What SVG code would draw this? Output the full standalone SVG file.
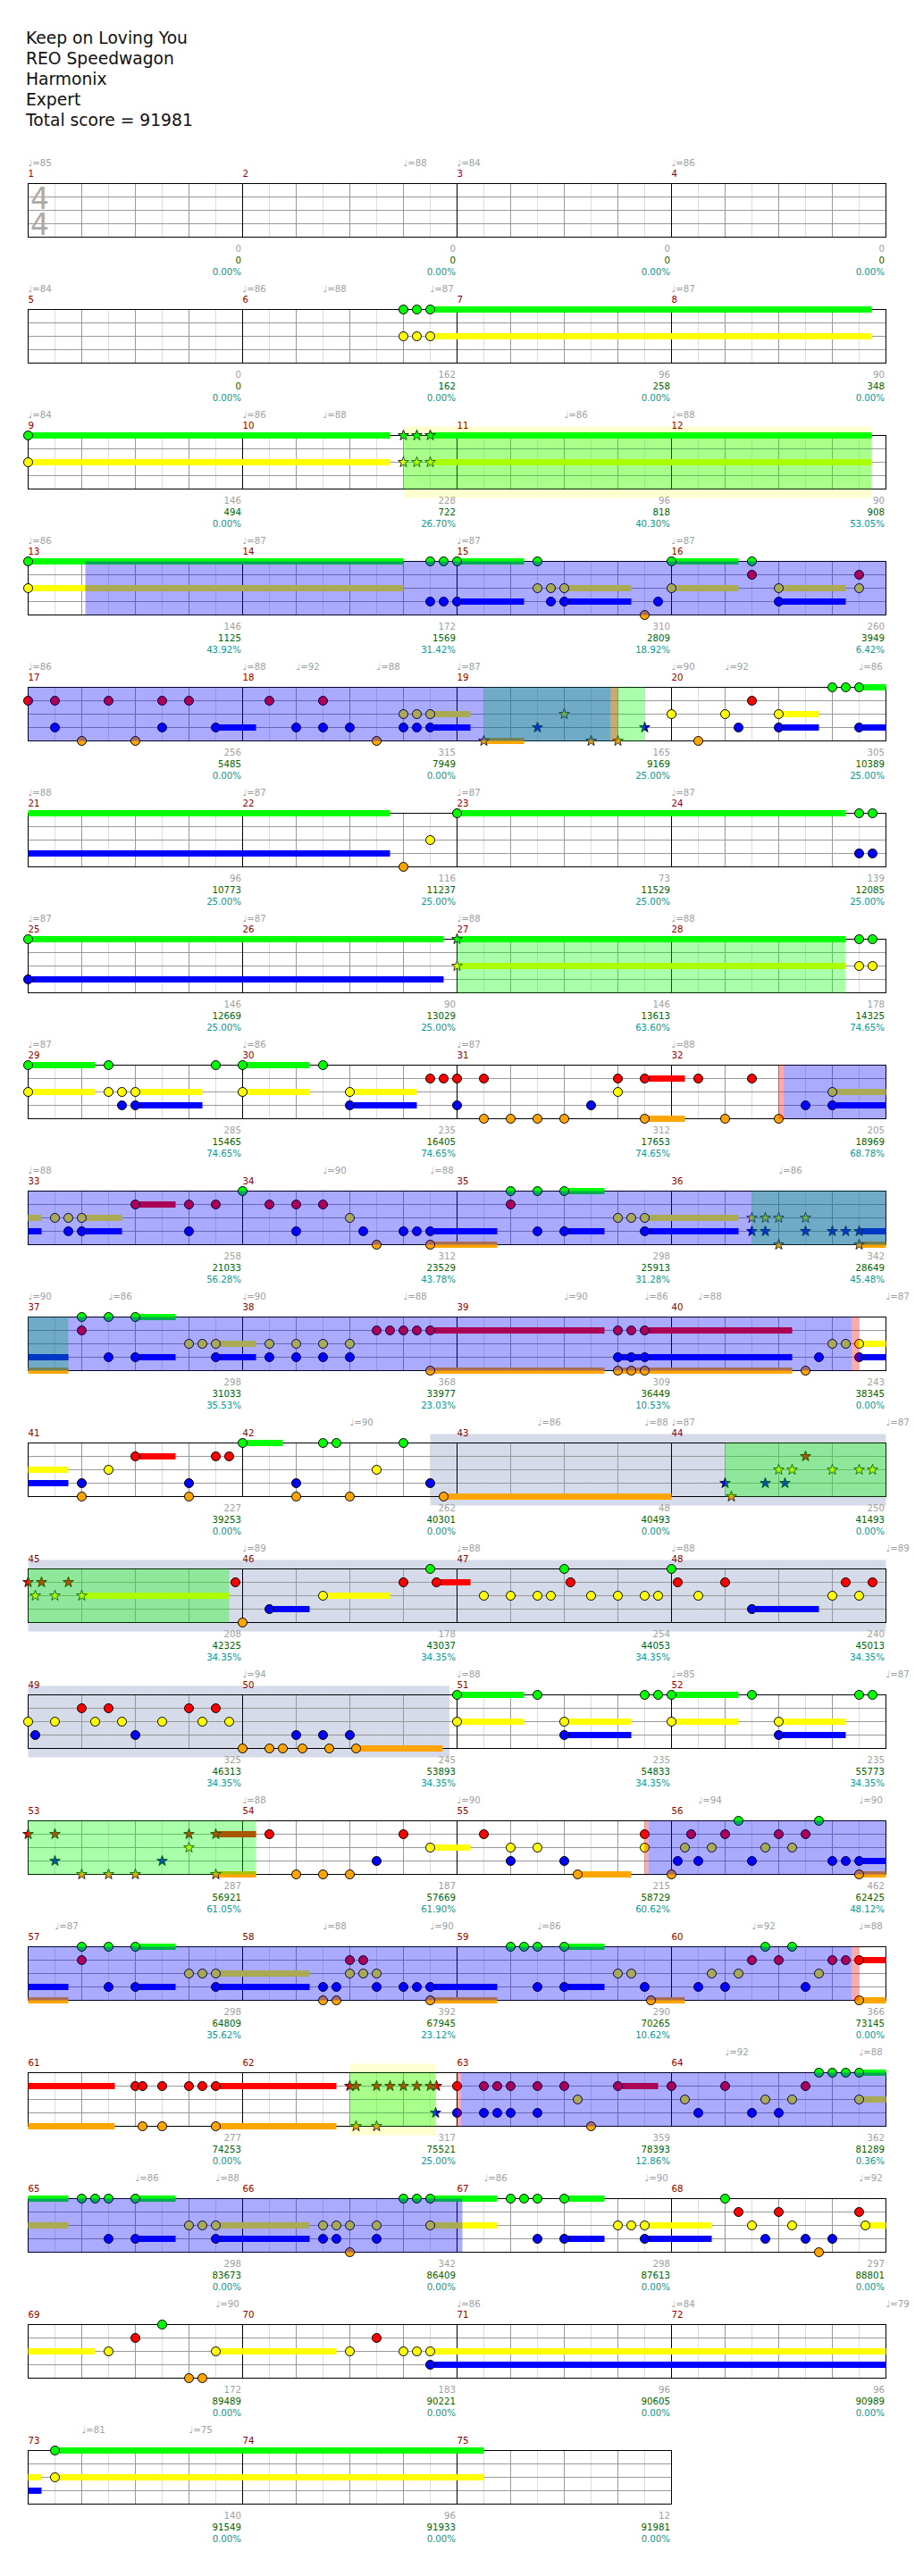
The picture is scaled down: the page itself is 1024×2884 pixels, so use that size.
<svg xmlns="http://www.w3.org/2000/svg" xmlns:xlink="http://www.w3.org/1999/xlink" width="1024" height="2884" viewBox="0 0 1024 2884">
<defs>
<style>
.t{font-family:"DejaVu Sans","Liberation Sans",sans-serif;font-size:10.2px}
.tp{fill:#a0a0a0}
.mn{fill:#8b0000}
.s1{fill:#a0a0a0;text-anchor:end}
.s2{fill:#006400;text-anchor:end}
.s3{fill:#009b9b;text-anchor:end}
.ttl{font-family:"DejaVu Sans","Liberation Sans",sans-serif;font-size:18.7px;fill:#111}
.ts{font-family:"DejaVu Sans","Liberation Sans",sans-serif;font-size:33px;fill:#aaa;writing-mode:vertical-rl;text-orientation:upright;letter-spacing:-9.4px}
.gl{stroke:#ddd;fill:none}
.gb{stroke:#999;fill:none}
.gm{stroke:#000;fill:none}
.lg,.lr,.ly,.lb,.lo{fill:none;stroke-width:7}
.lg{stroke:#0f0}.lr{stroke:#f00}.ly{stroke:#ff0}.lb{stroke:#00f}.lo{stroke:#ffa500}
.ob{fill:#00f;fill-opacity:.333}
.og{fill:#0f0;fill-opacity:.333}
.or{fill:#f00;fill-opacity:.333}
.py{fill:#ffffd0}
.pg{fill:#d5dbe8}
</style>
<g id="grid4">
<path class="gl" d="M30,0V60M90,0V60M150,0V60M210,0V60M270,0V60M330,0V60M390,0V60M450,0V60M510,0V60M570,0V60M630,0V60M690,0V60M750,0V60M810,0V60M870,0V60M930,0V60"/>
<path class="gb" d="M60,0V60M120,0V60M180,0V60M300,0V60M360,0V60M420,0V60M540,0V60M600,0V60M660,0V60M780,0V60M840,0V60M900,0V60M0,15H960M0,30H960M0,45H960"/>
<path class="gm" d="M240,0V60M480,0V60M720,0V60"/>
<rect class="gm" width="960" height="60"/>
</g>
<g id="grid3">
<path class="gl" d="M30,0V60M90,0V60M150,0V60M210,0V60M270,0V60M330,0V60M390,0V60M450,0V60M510,0V60M570,0V60M630,0V60M690,0V60"/>
<path class="gb" d="M60,0V60M120,0V60M180,0V60M300,0V60M360,0V60M420,0V60M540,0V60M600,0V60M660,0V60M0,15H720M0,30H720M0,45H720"/>
<path class="gm" d="M240,0V60M480,0V60"/>
<rect class="gm" width="720" height="60"/>
</g>
<circle id="G" r="5" fill="#0f0" stroke="#000"/>
<circle id="R" r="5" fill="#f00" stroke="#000"/>
<circle id="Y" r="5" fill="#ff0" stroke="#000"/>
<circle id="B" r="5" fill="#00f" stroke="#000"/>
<circle id="O" r="5" fill="#ffa500" stroke="#000"/>
<path id="sG" fill="#0f0" stroke="#000" stroke-width=".8" d="M0,-6.2L1.47,-2.02L5.9,-1.92L2.38,0.77L3.64,5.02L0,2.5L-3.64,5.02L-2.38,0.77L-5.9,-1.92L-1.47,-2.02Z"/>
<path id="sR" fill="#f00" stroke="#000" stroke-width=".8" d="M0,-6.2L1.47,-2.02L5.9,-1.92L2.38,0.77L3.64,5.02L0,2.5L-3.64,5.02L-2.38,0.77L-5.9,-1.92L-1.47,-2.02Z"/>
<path id="sY" fill="#ff0" stroke="#000" stroke-width=".8" d="M0,-6.2L1.47,-2.02L5.9,-1.92L2.38,0.77L3.64,5.02L0,2.5L-3.64,5.02L-2.38,0.77L-5.9,-1.92L-1.47,-2.02Z"/>
<path id="sB" fill="#00f" stroke="#000" stroke-width=".8" d="M0,-6.2L1.47,-2.02L5.9,-1.92L2.38,0.77L3.64,5.02L0,2.5L-3.64,5.02L-2.38,0.77L-5.9,-1.92L-1.47,-2.02Z"/>
<path id="sO" fill="#ffa500" stroke="#000" stroke-width=".8" d="M0,-6.2L1.47,-2.02L5.9,-1.92L2.38,0.77L3.64,5.02L0,2.5L-3.64,5.02L-2.38,0.77L-5.9,-1.92L-1.47,-2.02Z"/>
</defs>
<rect width="1024" height="2884" fill="#fff"/>

<g id="header" class="ttl">
<text x="29" y="49">Keep on Loving You</text>
<text x="29" y="72">REO Speedwagon</text>
<text x="29" y="95">Harmonix</text>
<text x="29" y="118">Expert</text>
<text x="29" y="141">Total score = 91981</text>
</g>

<g id="connectors"></g>

<g id="row-m1" transform="translate(31.5,205.5)">
<use href="#grid4"/>
<text class="ts" x="13" y="-3">44</text>
<g class="t">
<text class="tp" y="-20"><tspan x="0">♩=85</tspan><tspan x="420">♩=88</tspan><tspan x="480">♩=84</tspan><tspan x="720">♩=86</tspan></text>
<text class="mn" y="-7.5"><tspan x="0">1</tspan><tspan x="240">2</tspan><tspan x="480">3</tspan><tspan x="720">4</tspan></text>
<text class="s1" y="76.5"><tspan x="238.5">0</tspan><tspan x="478.5">0</tspan><tspan x="718.5">0</tspan><tspan x="958.5">0</tspan></text>
<text class="s2" y="89.5"><tspan x="238.5">0</tspan><tspan x="478.5">0</tspan><tspan x="718.5">0</tspan><tspan x="958.5">0</tspan></text>
<text class="s3" y="102.5"><tspan x="238.5">0.00%</tspan><tspan x="478.5">0.00%</tspan><tspan x="718.5">0.00%</tspan><tspan x="958.5">0.00%</tspan></text>
</g>
</g>

<g id="row-m5" transform="translate(31.5,346.5)">
<use href="#grid4"/>
<path class="lg" d="M450,0H944"/><path class="ly" d="M450,30H944"/>
<use href="#G" x="420"/><use href="#G" x="435"/><use href="#G" x="450"/>
<use href="#Y" x="420" y="30"/><use href="#Y" x="435" y="30"/><use href="#Y" x="450" y="30"/>
<g class="t">
<text class="tp" y="-20"><tspan x="0">♩=84</tspan><tspan x="240">♩=86</tspan><tspan x="330">♩=88</tspan><tspan x="450">♩=87</tspan><tspan x="720">♩=87</tspan></text>
<text class="mn" y="-7.5"><tspan x="0">5</tspan><tspan x="240">6</tspan><tspan x="480">7</tspan><tspan x="720">8</tspan></text>
<text class="s1" y="76.5"><tspan x="238.5">0</tspan><tspan x="478.5">162</tspan><tspan x="718.5">96</tspan><tspan x="958.5">90</tspan></text>
<text class="s2" y="89.5"><tspan x="238.5">0</tspan><tspan x="478.5">162</tspan><tspan x="718.5">258</tspan><tspan x="958.5">348</tspan></text>
<text class="s3" y="102.5"><tspan x="238.5">0.00%</tspan><tspan x="478.5">0.00%</tspan><tspan x="718.5">0.00%</tspan><tspan x="958.5">0.00%</tspan></text>
</g>
</g>

<g id="row-m9" transform="translate(31.5,487.5)">
<rect class="py" x="420" y="-10" width="524" height="80"/>
<use href="#grid4"/>
<path class="lg" d="M0,0H405M450,0H944"/><path class="ly" d="M0,30H405M450,30H944"/>
<use href="#G" x="0"/><use href="#Y" x="0" y="30"/>
<use href="#sG" x="420"/><use href="#sG" x="435"/><use href="#sG" x="450"/>
<use href="#sY" x="420" y="30"/><use href="#sY" x="435" y="30"/><use href="#sY" x="450" y="30"/>
<rect class="og" x="420" width="524" height="60"/>
<g class="t">
<text class="tp" y="-20"><tspan x="0">♩=84</tspan><tspan x="240">♩=86</tspan><tspan x="330">♩=88</tspan><tspan x="600">♩=86</tspan><tspan x="720">♩=88</tspan></text>
<text class="mn" y="-7.5"><tspan x="0">9</tspan><tspan x="240">10</tspan><tspan x="480">11</tspan><tspan x="720">12</tspan></text>
<text class="s1" y="76.5"><tspan x="238.5">146</tspan><tspan x="478.5">228</tspan><tspan x="718.5">96</tspan><tspan x="958.5">90</tspan></text>
<text class="s2" y="89.5"><tspan x="238.5">494</tspan><tspan x="478.5">722</tspan><tspan x="718.5">818</tspan><tspan x="958.5">908</tspan></text>
<text class="s3" y="102.5"><tspan x="238.5">0.00%</tspan><tspan x="478.5">26.70%</tspan><tspan x="718.5">40.30%</tspan><tspan x="958.5">53.05%</tspan></text>
</g>
</g>

<g id="row-m13" transform="translate(31.5,628.5)">
<use href="#grid4"/>
<path class="lg" d="M0,0H420M480,0H555M720,0H795"/>
<path class="ly" d="M0,30H420M600,30H675M720,30H795M840,30H915"/>
<path class="lb" d="M480,45H555M600,45H675M840,45H915"/>
<use href="#G" x="0"/><use href="#G" x="450"/><use href="#G" x="465"/><use href="#G" x="480"/><use href="#G" x="570"/><use href="#G" x="720"/><use href="#G" x="810"/>
<use href="#R" x="810" y="15"/><use href="#R" x="930" y="15"/>
<use href="#Y" x="0" y="30"/><use href="#Y" x="570" y="30"/><use href="#Y" x="585" y="30"/><use href="#Y" x="600" y="30"/><use href="#Y" x="720" y="30"/><use href="#Y" x="840" y="30"/><use href="#Y" x="930" y="30"/>
<use href="#B" x="450" y="45"/><use href="#B" x="465" y="45"/><use href="#B" x="480" y="45"/><use href="#B" x="585" y="45"/><use href="#B" x="600" y="45"/><use href="#B" x="705" y="45"/><use href="#B" x="840" y="45"/>
<use href="#O" x="690" y="60"/>
<rect class="ob" x="64" width="896" height="60"/>
<g class="t">
<text class="tp" y="-20"><tspan x="0">♩=86</tspan><tspan x="240">♩=87</tspan><tspan x="480">♩=87</tspan><tspan x="720">♩=87</tspan></text>
<text class="mn" y="-7.5"><tspan x="0">13</tspan><tspan x="240">14</tspan><tspan x="480">15</tspan><tspan x="720">16</tspan></text>
<text class="s1" y="76.5"><tspan x="238.5">146</tspan><tspan x="478.5">172</tspan><tspan x="718.5">310</tspan><tspan x="958.5">260</tspan></text>
<text class="s2" y="89.5"><tspan x="238.5">1125</tspan><tspan x="478.5">1569</tspan><tspan x="718.5">2809</tspan><tspan x="958.5">3949</tspan></text>
<text class="s3" y="102.5"><tspan x="238.5">43.92%</tspan><tspan x="478.5">31.42%</tspan><tspan x="718.5">18.92%</tspan><tspan x="958.5">6.42%</tspan></text>
</g>
</g>

<g id="row-m17" transform="translate(31.5,769.5)">
<use href="#grid4"/>
<path class="lb" d="M210,45H255M450,45H495M840,45H885M930,45H960"/>
<path class="ly" d="M450,30H495M840,30H885"/>
<path class="lg" d="M930,0H960"/>
<path class="lo" d="M510,60H555"/>
<use href="#R" x="0" y="15"/><use href="#R" x="30" y="15"/><use href="#R" x="90" y="15"/><use href="#R" x="150" y="15"/><use href="#R" x="180" y="15"/><use href="#R" x="270" y="15"/><use href="#R" x="330" y="15"/><use href="#R" x="810" y="15"/>
<use href="#B" x="30" y="45"/><use href="#B" x="150" y="45"/><use href="#B" x="210" y="45"/><use href="#B" x="300" y="45"/><use href="#B" x="330" y="45"/><use href="#B" x="360" y="45"/><use href="#B" x="420" y="45"/><use href="#B" x="435" y="45"/><use href="#B" x="450" y="45"/><use href="#B" x="795" y="45"/><use href="#B" x="840" y="45"/><use href="#B" x="930" y="45"/>
<use href="#Y" x="420" y="30"/><use href="#Y" x="435" y="30"/><use href="#Y" x="450" y="30"/><use href="#Y" x="720" y="30"/><use href="#Y" x="780" y="30"/><use href="#Y" x="840" y="30"/>
<use href="#O" x="60" y="60"/><use href="#O" x="120" y="60"/><use href="#O" x="390" y="60"/><use href="#O" x="750" y="60"/>
<use href="#G" x="900"/><use href="#G" x="915"/><use href="#G" x="930"/>
<use href="#sO" x="510" y="60"/><use href="#sB" x="570" y="45"/><use href="#sY" x="600" y="30"/><use href="#sO" x="630" y="60"/><use href="#sO" x="660" y="60"/><use href="#sB" x="690" y="45"/>
<rect class="og" x="510" width="180" height="60"/>
<rect class="or" x="651.7" width="8" height="60"/>
<rect class="ob" x="0" width="651.7" height="60"/>
<g class="t">
<text class="tp" y="-20"><tspan x="0">♩=86</tspan><tspan x="240">♩=88</tspan><tspan x="300">♩=92</tspan><tspan x="390">♩=88</tspan><tspan x="480">♩=87</tspan><tspan x="720">♩=90</tspan><tspan x="780">♩=92</tspan><tspan x="930">♩=86</tspan></text>
<text class="mn" y="-7.5"><tspan x="0">17</tspan><tspan x="240">18</tspan><tspan x="480">19</tspan><tspan x="720">20</tspan></text>
<text class="s1" y="76.5"><tspan x="238.5">256</tspan><tspan x="478.5">315</tspan><tspan x="718.5">165</tspan><tspan x="958.5">305</tspan></text>
<text class="s2" y="89.5"><tspan x="238.5">5485</tspan><tspan x="478.5">7949</tspan><tspan x="718.5">9169</tspan><tspan x="958.5">10389</tspan></text>
<text class="s3" y="102.5"><tspan x="238.5">0.00%</tspan><tspan x="478.5">0.00%</tspan><tspan x="718.5">25.00%</tspan><tspan x="958.5">25.00%</tspan></text>
</g>
</g>

<g id="row-m21" transform="translate(31.5,910.5)">
<use href="#grid4"/>
<path class="lg" d="M0,0H405M480,0H915"/><path class="lb" d="M0,45H405"/>
<use href="#G" x="480"/><use href="#G" x="930"/><use href="#G" x="945"/>
<use href="#B" x="930" y="45"/><use href="#B" x="945" y="45"/>
<use href="#O" x="420" y="60"/><use href="#Y" x="450" y="30"/>
<g class="t">
<text class="tp" y="-20"><tspan x="0">♩=88</tspan><tspan x="240">♩=87</tspan><tspan x="480">♩=87</tspan><tspan x="720">♩=87</tspan></text>
<text class="mn" y="-7.5"><tspan x="0">21</tspan><tspan x="240">22</tspan><tspan x="480">23</tspan><tspan x="720">24</tspan></text>
<text class="s1" y="76.5"><tspan x="238.5">96</tspan><tspan x="478.5">116</tspan><tspan x="718.5">73</tspan><tspan x="958.5">139</tspan></text>
<text class="s2" y="89.5"><tspan x="238.5">10773</tspan><tspan x="478.5">11237</tspan><tspan x="718.5">11529</tspan><tspan x="958.5">12085</tspan></text>
<text class="s3" y="102.5"><tspan x="238.5">25.00%</tspan><tspan x="478.5">25.00%</tspan><tspan x="718.5">25.00%</tspan><tspan x="958.5">25.00%</tspan></text>
</g>
</g>

<g id="row-m25" transform="translate(31.5,1051.5)">
<use href="#grid4"/>
<path class="lg" d="M0,0H465M480,0H915"/><path class="lb" d="M0,45H465"/><path class="ly" d="M480,30H915"/>
<use href="#G" x="0"/><use href="#G" x="930"/><use href="#G" x="945"/>
<use href="#B" x="0" y="45"/>
<use href="#Y" x="930" y="30"/><use href="#Y" x="945" y="30"/>
<use href="#sG" x="480"/><use href="#sY" x="480" y="30"/>
<rect class="og" x="480" width="435" height="60"/>
<g class="t">
<text class="tp" y="-20"><tspan x="0">♩=87</tspan><tspan x="240">♩=87</tspan><tspan x="480">♩=88</tspan><tspan x="720">♩=88</tspan></text>
<text class="mn" y="-7.5"><tspan x="0">25</tspan><tspan x="240">26</tspan><tspan x="480">27</tspan><tspan x="720">28</tspan></text>
<text class="s1" y="76.5"><tspan x="238.5">146</tspan><tspan x="478.5">90</tspan><tspan x="718.5">146</tspan><tspan x="958.5">178</tspan></text>
<text class="s2" y="89.5"><tspan x="238.5">12669</tspan><tspan x="478.5">13029</tspan><tspan x="718.5">13613</tspan><tspan x="958.5">14325</tspan></text>
<text class="s3" y="102.5"><tspan x="238.5">25.00%</tspan><tspan x="478.5">25.00%</tspan><tspan x="718.5">63.60%</tspan><tspan x="958.5">74.65%</tspan></text>
</g>
</g>

<g id="row-m29" transform="translate(31.5,1192.5)">
<use href="#grid4"/>
<path class="lg" d="M0,0H75M240,0H315"/>
<path class="ly" d="M0,30H75M120,30H195M240,30H315M360,30H435M900,30H960"/>
<path class="lb" d="M120,45H195M360,45H435M900,45H960"/>
<path class="lr" d="M690,15H735"/><path class="lo" d="M690,60H735"/>
<use href="#G" x="0"/><use href="#G" x="90"/><use href="#G" x="210"/><use href="#G" x="240"/><use href="#G" x="330"/>
<use href="#R" x="450" y="15"/><use href="#R" x="465" y="15"/><use href="#R" x="480" y="15"/><use href="#R" x="510" y="15"/><use href="#R" x="660" y="15"/><use href="#R" x="690" y="15"/><use href="#R" x="750" y="15"/><use href="#R" x="810" y="15"/>
<use href="#Y" x="0" y="30"/><use href="#Y" x="90" y="30"/><use href="#Y" x="105" y="30"/><use href="#Y" x="120" y="30"/><use href="#Y" x="240" y="30"/><use href="#Y" x="360" y="30"/><use href="#Y" x="660" y="30"/><use href="#Y" x="900" y="30"/>
<use href="#B" x="105" y="45"/><use href="#B" x="120" y="45"/><use href="#B" x="360" y="45"/><use href="#B" x="480" y="45"/><use href="#B" x="630" y="45"/><use href="#B" x="870" y="45"/><use href="#B" x="900" y="45"/>
<use href="#O" x="510" y="60"/><use href="#O" x="540" y="60"/><use href="#O" x="570" y="60"/><use href="#O" x="600" y="60"/><use href="#O" x="690" y="60"/><use href="#O" x="780" y="60"/><use href="#O" x="840" y="60"/>
<rect class="or" x="839.5" width="6" height="60"/>
<rect class="ob" x="845.5" width="114.5" height="60"/>
<g class="t">
<text class="tp" y="-20"><tspan x="0">♩=87</tspan><tspan x="240">♩=86</tspan><tspan x="480">♩=87</tspan><tspan x="720">♩=88</tspan></text>
<text class="mn" y="-7.5"><tspan x="0">29</tspan><tspan x="240">30</tspan><tspan x="480">31</tspan><tspan x="720">32</tspan></text>
<text class="s1" y="76.5"><tspan x="238.5">285</tspan><tspan x="478.5">235</tspan><tspan x="718.5">312</tspan><tspan x="958.5">205</tspan></text>
<text class="s2" y="89.5"><tspan x="238.5">15465</tspan><tspan x="478.5">16405</tspan><tspan x="718.5">17653</tspan><tspan x="958.5">18969</tspan></text>
<text class="s3" y="102.5"><tspan x="238.5">74.65%</tspan><tspan x="478.5">74.65%</tspan><tspan x="718.5">74.65%</tspan><tspan x="958.5">68.78%</tspan></text>
</g>
</g>

<g id="row-m33" transform="translate(31.5,1333.5)">
<use href="#grid4"/>
<path class="ly" d="M0,30H15M60,30H105M690,30H795"/>
<path class="lb" d="M0,45H15M60,45H105M450,45H525M600,45H645M690,45H795M930,45H960"/>
<path class="lr" d="M120,15H165"/><path class="lg" d="M600,0H645"/>
<path class="lo" d="M450,60H525M930,60H960"/>
<use href="#Y" x="30" y="30"/><use href="#Y" x="45" y="30"/><use href="#Y" x="60" y="30"/><use href="#Y" x="360" y="30"/><use href="#Y" x="660" y="30"/><use href="#Y" x="675" y="30"/><use href="#Y" x="690" y="30"/>
<use href="#B" x="45" y="45"/><use href="#B" x="60" y="45"/><use href="#B" x="180" y="45"/><use href="#B" x="300" y="45"/><use href="#B" x="375" y="45"/><use href="#B" x="420" y="45"/><use href="#B" x="435" y="45"/><use href="#B" x="450" y="45"/><use href="#B" x="570" y="45"/><use href="#B" x="600" y="45"/><use href="#B" x="690" y="45"/>
<use href="#R" x="120" y="15"/><use href="#R" x="180" y="15"/><use href="#R" x="210" y="15"/><use href="#R" x="270" y="15"/><use href="#R" x="300" y="15"/><use href="#R" x="330" y="15"/><use href="#R" x="540" y="15"/>
<use href="#G" x="240"/><use href="#G" x="540"/><use href="#G" x="570"/><use href="#G" x="600"/>
<use href="#O" x="390" y="60"/><use href="#O" x="450" y="60"/>
<use href="#sY" x="810" y="30"/><use href="#sY" x="825" y="30"/><use href="#sY" x="840" y="30"/><use href="#sY" x="870" y="30"/>
<use href="#sB" x="810" y="45"/><use href="#sB" x="825" y="45"/><use href="#sB" x="870" y="45"/><use href="#sB" x="900" y="45"/><use href="#sB" x="915" y="45"/><use href="#sB" x="930" y="45"/>
<use href="#sO" x="840" y="60"/><use href="#sO" x="930" y="60"/>
<rect class="og" x="810" width="150" height="60"/>
<rect class="ob" x="0" width="960" height="60"/>
<g class="t">
<text class="tp" y="-20"><tspan x="0">♩=88</tspan><tspan x="330">♩=90</tspan><tspan x="450">♩=88</tspan><tspan x="840">♩=86</tspan></text>
<text class="mn" y="-7.5"><tspan x="0">33</tspan><tspan x="240">34</tspan><tspan x="480">35</tspan><tspan x="720">36</tspan></text>
<text class="s1" y="76.5"><tspan x="238.5">258</tspan><tspan x="478.5">312</tspan><tspan x="718.5">298</tspan><tspan x="958.5">342</tspan></text>
<text class="s2" y="89.5"><tspan x="238.5">21033</tspan><tspan x="478.5">23529</tspan><tspan x="718.5">25913</tspan><tspan x="958.5">28649</tspan></text>
<text class="s3" y="102.5"><tspan x="238.5">56.28%</tspan><tspan x="478.5">43.78%</tspan><tspan x="718.5">31.28%</tspan><tspan x="958.5">45.48%</tspan></text>
</g>
</g>

<g id="row-m37" transform="translate(31.5,1474.5)">
<use href="#grid4"/>
<path class="lb" d="M0,45H45M120,45H165M210,45H255M660,45H855M930,45H960"/>
<path class="lo" d="M0,60H45M450,60H645M660,60H855"/>
<path class="lg" d="M120,0H165"/>
<path class="ly" d="M210,30H255M930,30H960"/>
<path class="lr" d="M450,15H645M690,15H855"/>
<use href="#G" x="60"/><use href="#G" x="90"/><use href="#G" x="120"/>
<use href="#R" x="60" y="15"/><use href="#R" x="390" y="15"/><use href="#R" x="405" y="15"/><use href="#R" x="420" y="15"/><use href="#R" x="435" y="15"/><use href="#R" x="450" y="15"/><use href="#R" x="660" y="15"/><use href="#R" x="675" y="15"/><use href="#R" x="690" y="15"/>
<use href="#Y" x="180" y="30"/><use href="#Y" x="195" y="30"/><use href="#Y" x="210" y="30"/><use href="#Y" x="270" y="30"/><use href="#Y" x="300" y="30"/><use href="#Y" x="330" y="30"/><use href="#Y" x="360" y="30"/><use href="#Y" x="900" y="30"/><use href="#Y" x="915" y="30"/><use href="#Y" x="930" y="30"/>
<use href="#B" x="90" y="45"/><use href="#B" x="120" y="45"/><use href="#B" x="210" y="45"/><use href="#B" x="270" y="45"/><use href="#B" x="300" y="45"/><use href="#B" x="330" y="45"/><use href="#B" x="360" y="45"/><use href="#B" x="660" y="45"/><use href="#B" x="675" y="45"/><use href="#B" x="690" y="45"/><use href="#B" x="885" y="45"/><use href="#B" x="930" y="45"/>
<use href="#O" x="450" y="60"/><use href="#O" x="660" y="60"/><use href="#O" x="675" y="60"/><use href="#O" x="690" y="60"/><use href="#O" x="870" y="60"/>
<rect class="og" x="0" width="45" height="60"/>
<rect class="or" x="922" width="8" height="60"/>
<rect class="ob" x="0" width="922" height="60"/>
<g class="t">
<text class="tp" y="-20"><tspan x="0">♩=90</tspan><tspan x="90">♩=86</tspan><tspan x="240">♩=90</tspan><tspan x="420">♩=88</tspan><tspan x="600">♩=90</tspan><tspan x="690">♩=86</tspan><tspan x="750">♩=88</tspan><tspan x="960">♩=87</tspan></text>
<text class="mn" y="-7.5"><tspan x="0">37</tspan><tspan x="240">38</tspan><tspan x="480">39</tspan><tspan x="720">40</tspan></text>
<text class="s1" y="76.5"><tspan x="238.5">298</tspan><tspan x="478.5">368</tspan><tspan x="718.5">309</tspan><tspan x="958.5">243</tspan></text>
<text class="s2" y="89.5"><tspan x="238.5">31033</tspan><tspan x="478.5">33977</tspan><tspan x="718.5">36449</tspan><tspan x="958.5">38345</tspan></text>
<text class="s3" y="102.5"><tspan x="238.5">35.53%</tspan><tspan x="478.5">23.03%</tspan><tspan x="718.5">10.53%</tspan><tspan x="958.5">0.00%</tspan></text>
</g>
</g>

<g id="row-m41" transform="translate(31.5,1615.5)">
<rect class="pg" x="450" y="-10" width="510" height="80"/>
<use href="#grid4"/>
<path class="ly" d="M0,30H45"/><path class="lb" d="M0,45H45"/>
<path class="lr" d="M120,15H165"/><path class="lg" d="M240,0H285"/>
<path class="lo" d="M465,60H720"/>
<use href="#B" x="60" y="45"/><use href="#B" x="180" y="45"/><use href="#B" x="300" y="45"/><use href="#B" x="450" y="45"/>
<use href="#O" x="60" y="60"/><use href="#O" x="180" y="60"/><use href="#O" x="300" y="60"/><use href="#O" x="360" y="60"/><use href="#O" x="465" y="60"/>
<use href="#Y" x="90" y="30"/><use href="#Y" x="390" y="30"/>
<use href="#R" x="120" y="15"/><use href="#R" x="210" y="15"/><use href="#R" x="225" y="15"/>
<use href="#G" x="240"/><use href="#G" x="330"/><use href="#G" x="345"/><use href="#G" x="420"/>
<use href="#sB" x="780" y="45"/><use href="#sB" x="825" y="45"/><use href="#sB" x="847" y="45"/>
<use href="#sO" x="787" y="60"/><use href="#sR" x="870" y="15"/>
<use href="#sY" x="840" y="30"/><use href="#sY" x="855" y="30"/><use href="#sY" x="900" y="30"/><use href="#sY" x="930" y="30"/><use href="#sY" x="945" y="30"/>
<rect class="og" x="780" width="180" height="60"/>
<g class="t">
<text class="tp" y="-20"><tspan x="360">♩=90</tspan><tspan x="570">♩=86</tspan><tspan x="690">♩=88</tspan><tspan x="720">♩=87</tspan><tspan x="960">♩=87</tspan></text>
<text class="mn" y="-7.5"><tspan x="0">41</tspan><tspan x="240">42</tspan><tspan x="480">43</tspan><tspan x="720">44</tspan></text>
<text class="s1" y="76.5"><tspan x="238.5">227</tspan><tspan x="478.5">262</tspan><tspan x="718.5">48</tspan><tspan x="958.5">250</tspan></text>
<text class="s2" y="89.5"><tspan x="238.5">39253</tspan><tspan x="478.5">40301</tspan><tspan x="718.5">40493</tspan><tspan x="958.5">41493</tspan></text>
<text class="s3" y="102.5"><tspan x="238.5">0.00%</tspan><tspan x="478.5">0.00%</tspan><tspan x="718.5">0.00%</tspan><tspan x="958.5">0.00%</tspan></text>
</g>
</g>

<g id="row-m45" transform="translate(31.5,1756.5)">
<rect class="pg" x="0" y="-10" width="960" height="80"/>
<use href="#grid4"/>
<path class="ly" d="M60,30H225M330,30H405"/>
<path class="lb" d="M270,45H315M810,45H885"/>
<path class="lr" d="M457,15H495"/>
<use href="#sR" x="0" y="15"/><use href="#sR" x="15" y="15"/><use href="#sR" x="45" y="15"/>
<use href="#sY" x="8" y="30"/><use href="#sY" x="30" y="30"/><use href="#sY" x="60" y="30"/>
<use href="#R" x="232" y="15"/><use href="#R" x="420" y="15"/><use href="#R" x="457" y="15"/><use href="#R" x="607" y="15"/><use href="#R" x="727" y="15"/><use href="#R" x="780" y="15"/><use href="#R" x="915" y="15"/><use href="#R" x="945" y="15"/>
<use href="#O" x="240" y="60"/>
<use href="#B" x="270" y="45"/><use href="#B" x="810" y="45"/>
<use href="#Y" x="330" y="30"/><use href="#Y" x="510" y="30"/><use href="#Y" x="540" y="30"/><use href="#Y" x="570" y="30"/><use href="#Y" x="585" y="30"/><use href="#Y" x="630" y="30"/><use href="#Y" x="660" y="30"/><use href="#Y" x="690" y="30"/><use href="#Y" x="705" y="30"/><use href="#Y" x="750" y="30"/><use href="#Y" x="900" y="30"/><use href="#Y" x="930" y="30"/>
<use href="#G" x="450"/><use href="#G" x="600"/><use href="#G" x="720"/>
<rect class="og" x="0" width="225" height="60"/>
<g class="t">
<text class="tp" y="-20"><tspan x="240">♩=89</tspan><tspan x="480">♩=88</tspan><tspan x="720">♩=88</tspan><tspan x="960">♩=89</tspan></text>
<text class="mn" y="-7.5"><tspan x="0">45</tspan><tspan x="240">46</tspan><tspan x="480">47</tspan><tspan x="720">48</tspan></text>
<text class="s1" y="76.5"><tspan x="238.5">208</tspan><tspan x="478.5">178</tspan><tspan x="718.5">254</tspan><tspan x="958.5">240</tspan></text>
<text class="s2" y="89.5"><tspan x="238.5">42325</tspan><tspan x="478.5">43037</tspan><tspan x="718.5">44053</tspan><tspan x="958.5">45013</tspan></text>
<text class="s3" y="102.5"><tspan x="238.5">34.35%</tspan><tspan x="478.5">34.35%</tspan><tspan x="718.5">34.35%</tspan><tspan x="958.5">34.35%</tspan></text>
</g>
</g>

<g id="row-m49" transform="translate(31.5,1897.5)">
<rect class="pg" x="0" y="-10" width="471.5" height="80"/>
<use href="#grid4"/>
<path class="lo" d="M367,60H464"/>
<path class="lg" d="M480,0H555M720,0H795"/>
<path class="ly" d="M480,30H555M600,30H675M720,30H795M840,30H915"/>
<path class="lb" d="M600,45H675M840,45H915"/>
<use href="#Y" x="0" y="30"/><use href="#Y" x="30" y="30"/><use href="#Y" x="75" y="30"/><use href="#Y" x="105" y="30"/><use href="#Y" x="150" y="30"/><use href="#Y" x="195" y="30"/><use href="#Y" x="225" y="30"/><use href="#Y" x="480" y="30"/><use href="#Y" x="600" y="30"/><use href="#Y" x="720" y="30"/><use href="#Y" x="840" y="30"/>
<use href="#B" x="8" y="45"/><use href="#B" x="120" y="45"/><use href="#B" x="300" y="45"/><use href="#B" x="330" y="45"/><use href="#B" x="360" y="45"/><use href="#B" x="600" y="45"/><use href="#B" x="840" y="45"/>
<use href="#R" x="60" y="15"/><use href="#R" x="90" y="15"/><use href="#R" x="180" y="15"/><use href="#R" x="210" y="15"/>
<use href="#O" x="240" y="60"/><use href="#O" x="270" y="60"/><use href="#O" x="285" y="60"/><use href="#O" x="307" y="60"/><use href="#O" x="337" y="60"/><use href="#O" x="367" y="60"/>
<use href="#G" x="480"/><use href="#G" x="570"/><use href="#G" x="690"/><use href="#G" x="705"/><use href="#G" x="720"/><use href="#G" x="810"/><use href="#G" x="930"/><use href="#G" x="945"/>
<g class="t">
<text class="tp" y="-20"><tspan x="240">♩=94</tspan><tspan x="480">♩=88</tspan><tspan x="720">♩=85</tspan><tspan x="960">♩=87</tspan></text>
<text class="mn" y="-7.5"><tspan x="0">49</tspan><tspan x="240">50</tspan><tspan x="480">51</tspan><tspan x="720">52</tspan></text>
<text class="s1" y="76.5"><tspan x="238.5">325</tspan><tspan x="478.5">245</tspan><tspan x="718.5">235</tspan><tspan x="958.5">235</tspan></text>
<text class="s2" y="89.5"><tspan x="238.5">46313</tspan><tspan x="478.5">53893</tspan><tspan x="718.5">54833</tspan><tspan x="958.5">55773</tspan></text>
<text class="s3" y="102.5"><tspan x="238.5">34.35%</tspan><tspan x="478.5">34.35%</tspan><tspan x="718.5">34.35%</tspan><tspan x="958.5">34.35%</tspan></text>
</g>
</g>

<g id="row-m53" transform="translate(31.5,2038.5)">
<use href="#grid4"/>
<path class="lr" d="M210,15H255"/>
<path class="lo" d="M210,60H255M615,60H675M930,60H960"/>
<path class="ly" d="M450,30H495"/>
<path class="lb" d="M930,45H960"/>
<use href="#sR" x="0" y="15"/><use href="#sR" x="30" y="15"/><use href="#sR" x="180" y="15"/><use href="#sR" x="210" y="15"/>
<use href="#sY" x="180" y="30"/>
<use href="#sB" x="30" y="45"/><use href="#sB" x="150" y="45"/>
<use href="#sO" x="60" y="60"/><use href="#sO" x="90" y="60"/><use href="#sO" x="120" y="60"/><use href="#sO" x="210" y="60"/>
<use href="#R" x="270" y="15"/><use href="#R" x="420" y="15"/><use href="#R" x="510" y="15"/><use href="#R" x="690" y="15"/><use href="#R" x="742" y="15"/><use href="#R" x="780" y="15"/><use href="#R" x="840" y="15"/><use href="#R" x="870" y="15"/>
<use href="#O" x="300" y="60"/><use href="#O" x="330" y="60"/><use href="#O" x="360" y="60"/><use href="#O" x="615" y="60"/><use href="#O" x="720" y="60"/><use href="#O" x="930" y="60"/>
<use href="#B" x="390" y="45"/><use href="#B" x="540" y="45"/><use href="#B" x="600" y="45"/><use href="#B" x="727" y="45"/><use href="#B" x="750" y="45"/><use href="#B" x="810" y="45"/><use href="#B" x="900" y="45"/><use href="#B" x="915" y="45"/><use href="#B" x="930" y="45"/>
<use href="#Y" x="450" y="30"/><use href="#Y" x="540" y="30"/><use href="#Y" x="570" y="30"/><use href="#Y" x="690" y="30"/><use href="#Y" x="735" y="30"/><use href="#Y" x="765" y="30"/><use href="#Y" x="825" y="30"/><use href="#Y" x="855" y="30"/>
<use href="#G" x="795"/><use href="#G" x="885"/>
<rect class="og" x="0" width="255" height="60"/>
<rect class="or" x="689.5" width="5" height="60"/>
<rect class="ob" x="694.5" width="265.5" height="60"/>
<g class="t">
<text class="tp" y="-20"><tspan x="240">♩=88</tspan><tspan x="480">♩=90</tspan><tspan x="750">♩=94</tspan><tspan x="930">♩=90</tspan></text>
<text class="mn" y="-7.5"><tspan x="0">53</tspan><tspan x="240">54</tspan><tspan x="480">55</tspan><tspan x="720">56</tspan></text>
<text class="s1" y="76.5"><tspan x="238.5">287</tspan><tspan x="478.5">187</tspan><tspan x="718.5">215</tspan><tspan x="958.5">462</tspan></text>
<text class="s2" y="89.5"><tspan x="238.5">56921</tspan><tspan x="478.5">57669</tspan><tspan x="718.5">58729</tspan><tspan x="958.5">62425</tspan></text>
<text class="s3" y="102.5"><tspan x="238.5">61.05%</tspan><tspan x="478.5">61.90%</tspan><tspan x="718.5">60.62%</tspan><tspan x="958.5">48.12%</tspan></text>
</g>
</g>

<g id="row-m57" transform="translate(31.5,2179.5)">
<use href="#grid4"/>
<path class="lb" d="M0,45H45M120,45H165M210,45H315M450,45H525M600,45H645"/>
<path class="lo" d="M0,60H45M450,60H525M697,60H735M930,60H960"/>
<path class="lg" d="M120,0H165M600,0H645"/>
<path class="ly" d="M210,30H315"/>
<path class="lr" d="M930,15H960"/>
<use href="#G" x="60"/><use href="#G" x="90"/><use href="#G" x="120"/><use href="#G" x="540"/><use href="#G" x="555"/><use href="#G" x="570"/><use href="#G" x="600"/><use href="#G" x="825"/><use href="#G" x="855"/>
<use href="#R" x="60" y="15"/><use href="#R" x="360" y="15"/><use href="#R" x="375" y="15"/><use href="#R" x="810" y="15"/><use href="#R" x="840" y="15"/><use href="#R" x="900" y="15"/><use href="#R" x="915" y="15"/><use href="#R" x="930" y="15"/>
<use href="#Y" x="180" y="30"/><use href="#Y" x="195" y="30"/><use href="#Y" x="210" y="30"/><use href="#Y" x="360" y="30"/><use href="#Y" x="375" y="30"/><use href="#Y" x="390" y="30"/><use href="#Y" x="660" y="30"/><use href="#Y" x="675" y="30"/><use href="#Y" x="765" y="30"/><use href="#Y" x="795" y="30"/><use href="#Y" x="885" y="30"/>
<use href="#B" x="90" y="45"/><use href="#B" x="120" y="45"/><use href="#B" x="210" y="45"/><use href="#B" x="330" y="45"/><use href="#B" x="345" y="45"/><use href="#B" x="390" y="45"/><use href="#B" x="420" y="45"/><use href="#B" x="435" y="45"/><use href="#B" x="450" y="45"/><use href="#B" x="570" y="45"/><use href="#B" x="600" y="45"/><use href="#B" x="690" y="45"/><use href="#B" x="750" y="45"/><use href="#B" x="780" y="45"/><use href="#B" x="870" y="45"/>
<use href="#O" x="330" y="60"/><use href="#O" x="345" y="60"/><use href="#O" x="450" y="60"/><use href="#O" x="697" y="60"/><use href="#O" x="930" y="60"/>
<rect class="or" x="922" width="8" height="60"/>
<rect class="ob" x="0" width="922" height="60"/>
<g class="t">
<text class="tp" y="-20"><tspan x="30">♩=87</tspan><tspan x="330">♩=88</tspan><tspan x="450">♩=90</tspan><tspan x="570">♩=86</tspan><tspan x="810">♩=92</tspan><tspan x="930">♩=88</tspan></text>
<text class="mn" y="-7.5"><tspan x="0">57</tspan><tspan x="240">58</tspan><tspan x="480">59</tspan><tspan x="720">60</tspan></text>
<text class="s1" y="76.5"><tspan x="238.5">298</tspan><tspan x="478.5">392</tspan><tspan x="718.5">290</tspan><tspan x="958.5">366</tspan></text>
<text class="s2" y="89.5"><tspan x="238.5">64809</tspan><tspan x="478.5">67945</tspan><tspan x="718.5">70265</tspan><tspan x="958.5">73145</tspan></text>
<text class="s3" y="102.5"><tspan x="238.5">35.62%</tspan><tspan x="478.5">23.12%</tspan><tspan x="718.5">10.62%</tspan><tspan x="958.5">0.00%</tspan></text>
</g>
</g>

<g id="row-m61" transform="translate(31.5,2320.5)">
<rect class="py" x="360" y="-10" width="96.6" height="80"/>
<use href="#grid4"/>
<path class="lr" d="M0,15H97M210,15H345M660,15H705"/>
<path class="lo" d="M0,60H97M210,60H345"/>
<path class="ly" d="M930,30H960"/>
<path class="lg" d="M930,0H960"/>
<use href="#R" x="120" y="15"/><use href="#R" x="128" y="15"/><use href="#R" x="150" y="15"/><use href="#R" x="180" y="15"/><use href="#R" x="195" y="15"/><use href="#R" x="210" y="15"/><use href="#R" x="480" y="15"/><use href="#R" x="510" y="15"/><use href="#R" x="525" y="15"/><use href="#R" x="540" y="15"/><use href="#R" x="570" y="15"/><use href="#R" x="600" y="15"/><use href="#R" x="660" y="15"/><use href="#R" x="720" y="15"/><use href="#R" x="780" y="15"/><use href="#R" x="870" y="15"/>
<use href="#O" x="128" y="60"/><use href="#O" x="150" y="60"/><use href="#O" x="210" y="60"/><use href="#O" x="630" y="60"/>
<use href="#B" x="480" y="45"/><use href="#B" x="510" y="45"/><use href="#B" x="525" y="45"/><use href="#B" x="540" y="45"/><use href="#B" x="570" y="45"/><use href="#B" x="750" y="45"/><use href="#B" x="810" y="45"/><use href="#B" x="840" y="45"/>
<use href="#Y" x="615" y="30"/><use href="#Y" x="735" y="30"/><use href="#Y" x="825" y="30"/><use href="#Y" x="855" y="30"/><use href="#Y" x="930" y="30"/>
<use href="#G" x="885"/><use href="#G" x="900"/><use href="#G" x="915"/><use href="#G" x="930"/>
<use href="#sR" x="360" y="15"/><use href="#sR" x="367" y="15"/><use href="#sR" x="390" y="15"/><use href="#sR" x="405" y="15"/><use href="#sR" x="420" y="15"/><use href="#sR" x="435" y="15"/><use href="#sR" x="450" y="15"/><use href="#sR" x="457" y="15"/>
<use href="#sO" x="367" y="60"/><use href="#sO" x="390" y="60"/>
<use href="#sB" x="456" y="45"/>
<rect class="og" x="360" width="96.6" height="60"/>
<rect class="or" x="480" width="4.6" height="60"/>
<rect class="ob" x="484.6" width="475.4" height="60"/>
<g class="t">
<text class="tp" y="-20"><tspan x="780">♩=92</tspan><tspan x="930">♩=88</tspan></text>
<text class="mn" y="-7.5"><tspan x="0">61</tspan><tspan x="240">62</tspan><tspan x="480">63</tspan><tspan x="720">64</tspan></text>
<text class="s1" y="76.5"><tspan x="238.5">277</tspan><tspan x="478.5">317</tspan><tspan x="718.5">359</tspan><tspan x="958.5">362</tspan></text>
<text class="s2" y="89.5"><tspan x="238.5">74253</tspan><tspan x="478.5">75521</tspan><tspan x="718.5">78393</tspan><tspan x="958.5">81289</tspan></text>
<text class="s3" y="102.5"><tspan x="238.5">0.00%</tspan><tspan x="478.5">25.00%</tspan><tspan x="718.5">12.86%</tspan><tspan x="958.5">0.36%</tspan></text>
</g>
</g>

<g id="row-m65" transform="translate(31.5,2461.5)">
<use href="#grid4"/>
<path class="lg" d="M0,0H45M120,0H165M450,0H525M600,0H645"/>
<path class="ly" d="M0,30H45M210,30H315M450,30H525M690,30H765M937,30H960"/>
<path class="lb" d="M120,45H165M210,45H315M600,45H645M690,45H765"/>
<use href="#G" x="60"/><use href="#G" x="75"/><use href="#G" x="90"/><use href="#G" x="120"/><use href="#G" x="420"/><use href="#G" x="435"/><use href="#G" x="450"/><use href="#G" x="540"/><use href="#G" x="555"/><use href="#G" x="570"/><use href="#G" x="600"/><use href="#G" x="780"/>
<use href="#B" x="90" y="45"/><use href="#B" x="120" y="45"/><use href="#B" x="210" y="45"/><use href="#B" x="330" y="45"/><use href="#B" x="345" y="45"/><use href="#B" x="390" y="45"/><use href="#B" x="570" y="45"/><use href="#B" x="600" y="45"/><use href="#B" x="690" y="45"/><use href="#B" x="825" y="45"/><use href="#B" x="870" y="45"/><use href="#B" x="900" y="45"/>
<use href="#Y" x="180" y="30"/><use href="#Y" x="195" y="30"/><use href="#Y" x="210" y="30"/><use href="#Y" x="330" y="30"/><use href="#Y" x="345" y="30"/><use href="#Y" x="360" y="30"/><use href="#Y" x="390" y="30"/><use href="#Y" x="450" y="30"/><use href="#Y" x="660" y="30"/><use href="#Y" x="675" y="30"/><use href="#Y" x="690" y="30"/><use href="#Y" x="810" y="30"/><use href="#Y" x="855" y="30"/><use href="#Y" x="937" y="30"/>
<use href="#O" x="360" y="60"/><use href="#O" x="885" y="60"/>
<use href="#R" x="795" y="15"/><use href="#R" x="840" y="15"/><use href="#R" x="930" y="15"/>
<rect class="ob" x="0" width="486" height="60"/>
<g class="t">
<text class="tp" y="-20"><tspan x="120">♩=86</tspan><tspan x="210">♩=88</tspan><tspan x="510">♩=86</tspan><tspan x="690">♩=90</tspan><tspan x="930">♩=92</tspan></text>
<text class="mn" y="-7.5"><tspan x="0">65</tspan><tspan x="240">66</tspan><tspan x="480">67</tspan><tspan x="720">68</tspan></text>
<text class="s1" y="76.5"><tspan x="238.5">298</tspan><tspan x="478.5">342</tspan><tspan x="718.5">298</tspan><tspan x="958.5">297</tspan></text>
<text class="s2" y="89.5"><tspan x="238.5">83673</tspan><tspan x="478.5">86409</tspan><tspan x="718.5">87613</tspan><tspan x="958.5">88801</tspan></text>
<text class="s3" y="102.5"><tspan x="238.5">0.00%</tspan><tspan x="478.5">0.00%</tspan><tspan x="718.5">0.00%</tspan><tspan x="958.5">0.00%</tspan></text>
</g>
</g>

<g id="row-m69" transform="translate(31.5,2602.5)">
<use href="#grid4"/>
<path class="ly" d="M0,30H75M210,30H345M450,30H960"/>
<path class="lb" d="M450,45H960"/>
<use href="#Y" x="90" y="30"/><use href="#Y" x="210" y="30"/><use href="#Y" x="360" y="30"/><use href="#Y" x="420" y="30"/><use href="#Y" x="435" y="30"/><use href="#Y" x="450" y="30"/>
<use href="#R" x="120" y="15"/><use href="#R" x="390" y="15"/>
<use href="#G" x="150"/>
<use href="#O" x="180" y="60"/><use href="#O" x="195" y="60"/>
<use href="#B" x="450" y="45"/>
<g class="t">
<text class="tp" y="-20"><tspan x="210">♩=90</tspan><tspan x="480">♩=86</tspan><tspan x="720">♩=84</tspan><tspan x="960">♩=79</tspan></text>
<text class="mn" y="-7.5"><tspan x="0">69</tspan><tspan x="240">70</tspan><tspan x="480">71</tspan><tspan x="720">72</tspan></text>
<text class="s1" y="76.5"><tspan x="238.5">172</tspan><tspan x="478.5">183</tspan><tspan x="718.5">96</tspan><tspan x="958.5">96</tspan></text>
<text class="s2" y="89.5"><tspan x="238.5">89489</tspan><tspan x="478.5">90221</tspan><tspan x="718.5">90605</tspan><tspan x="958.5">90989</tspan></text>
<text class="s3" y="102.5"><tspan x="238.5">0.00%</tspan><tspan x="478.5">0.00%</tspan><tspan x="718.5">0.00%</tspan><tspan x="958.5">0.00%</tspan></text>
</g>
</g>

<g id="row-m73" transform="translate(31.5,2743.5)">
<use href="#grid3"/>
<path class="ly" d="M0,30H15M30,30H510"/>
<path class="lb" d="M0,45H15"/>
<path class="lg" d="M30,0H510"/>
<use href="#G" x="30"/><use href="#Y" x="30" y="30"/>
<g class="t">
<text class="tp" y="-20"><tspan x="60">♩=81</tspan><tspan x="180">♩=75</tspan></text>
<text class="mn" y="-7.5"><tspan x="0">73</tspan><tspan x="240">74</tspan><tspan x="480">75</tspan></text>
<text class="s1" y="76.5"><tspan x="238.5">140</tspan><tspan x="478.5">96</tspan><tspan x="718.5">12</tspan></text>
<text class="s2" y="89.5"><tspan x="238.5">91549</tspan><tspan x="478.5">91933</tspan><tspan x="718.5">91981</tspan></text>
<text class="s3" y="102.5"><tspan x="238.5">0.00%</tspan><tspan x="478.5">0.00%</tspan><tspan x="718.5">0.00%</tspan></text>
</g>
</g>
</svg>
